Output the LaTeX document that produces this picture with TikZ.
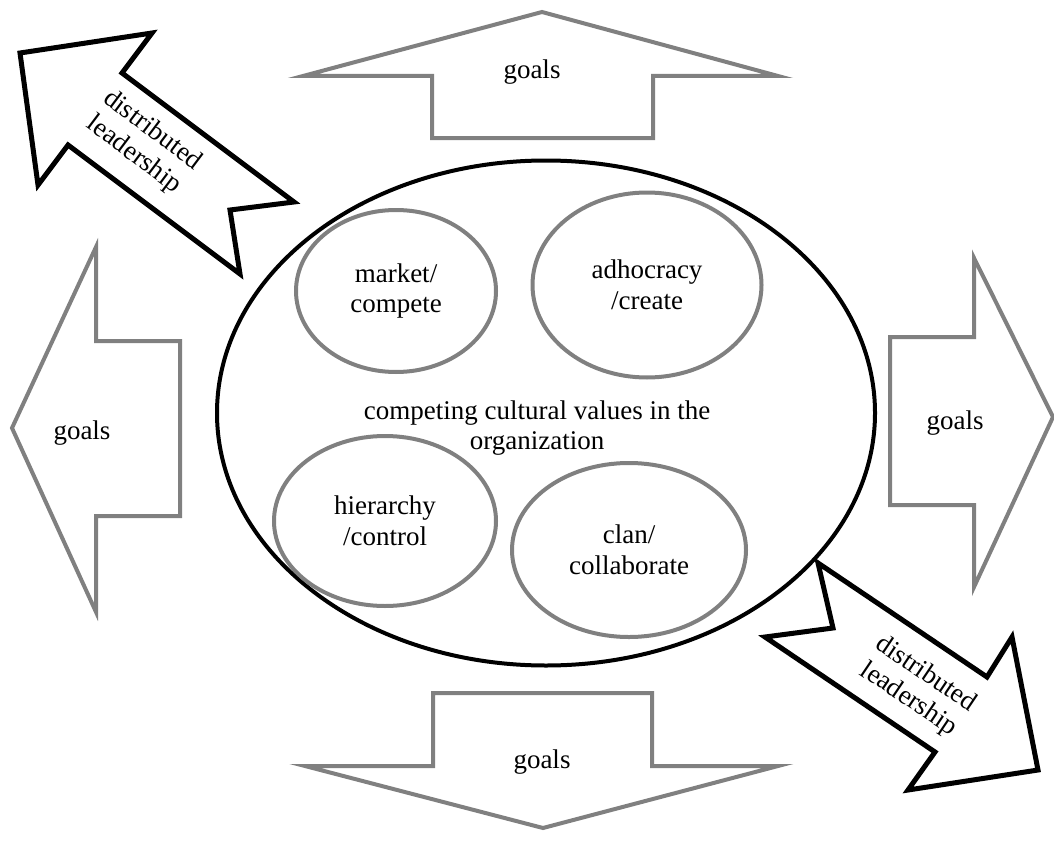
\documentclass[tikz,border=0pt]{standalone}
\usepackage{fontspec}
\setmainfont{Liberation Serif}
\usepackage{tikz}
\usetikzlibrary{shapes.geometric}
\definecolor{ShapeGray}{HTML}{808080}

\begin{document}
\begin{tikzpicture}[x=1pt,y=-1pt,
    every node/.style={font=\fontsize{27}{30.5}\selectfont, align=center},
    goalshape/.style={draw=ShapeGray, line width=4pt, fill=white},
    leadshape/.style={draw=black, line width=5pt, fill=white},
    valueoval/.style={ellipse, draw=ShapeGray, line width=4pt, inner sep=0pt}]
  \useasboundingbox (0,0) rectangle (1054,840);
  % goals arrows
  \draw[goalshape] (432,138) -- (432,76) -- (303,76) -- (542,12) -- (778,76)
    -- (653,76) -- (653,138) -- cycle;
  \draw[goalshape] (433,693) -- (652,693) -- (652,766) -- (778,766) -- (543,828)
    -- (305,766) -- (433,766) -- cycle;
  \draw[goalshape] (180,341) -- (96,341) -- (96,247) -- (12,428) -- (96,612)
    -- (96,516) -- (180,516) -- cycle;
  \draw[goalshape] (890,337) -- (974,337) -- (974,258) -- (1053,417) -- (974,587)
    -- (974,505) -- (890,505) -- cycle;
  \node (goalsT) at (532,72) {goals};
  \node (goalsB) at (542,762) {goals};
  \node (goalsL) at (82,433) {goals};
  \node (goalsR) at (955,423) {goals};
  % distributed leadership arrows
  \draw[leadshape] (20,53) -- (152,33) -- (122,73) -- (294,202) -- (230,210)
    -- (240,274) -- (68,145) -- (38,185) -- cycle;
  \draw[leadshape] (818,563) -- (833,628) -- (765,637) -- (935,752) -- (908,790)
    -- (1038,770) -- (1012,637) -- (987,677) -- cycle;
  \node[rotate=-37] (leadTL) at (143,143) {distributed\\leadership};
  \node[rotate=-34] (leadBR) at (917,687) {distributed\\leadership};
  % culture ellipse
  \node[ellipse, draw, line width=4pt, minimum width=658pt, minimum height=505pt]
    (culture) at (546,413) {};
  \node (values) at (537,428) {competing cultural values in the\\organization};
  \node[valueoval, minimum width=200pt, minimum height=162pt] (market) at (396,291)
    {market/\\compete};
  \node[valueoval, minimum width=229pt, minimum height=185pt] (adhocracy) at (647,285)
    {adhocracy\\/create};
  \node[valueoval, minimum width=222pt, minimum height=170pt] (hierarchy) at (385,521)
    {hierarchy\\/control};
  \node[valueoval, minimum width=234pt, minimum height=174pt] (clan) at (629,550)
    {clan/\\collaborate};
\end{tikzpicture}
\end{document}
